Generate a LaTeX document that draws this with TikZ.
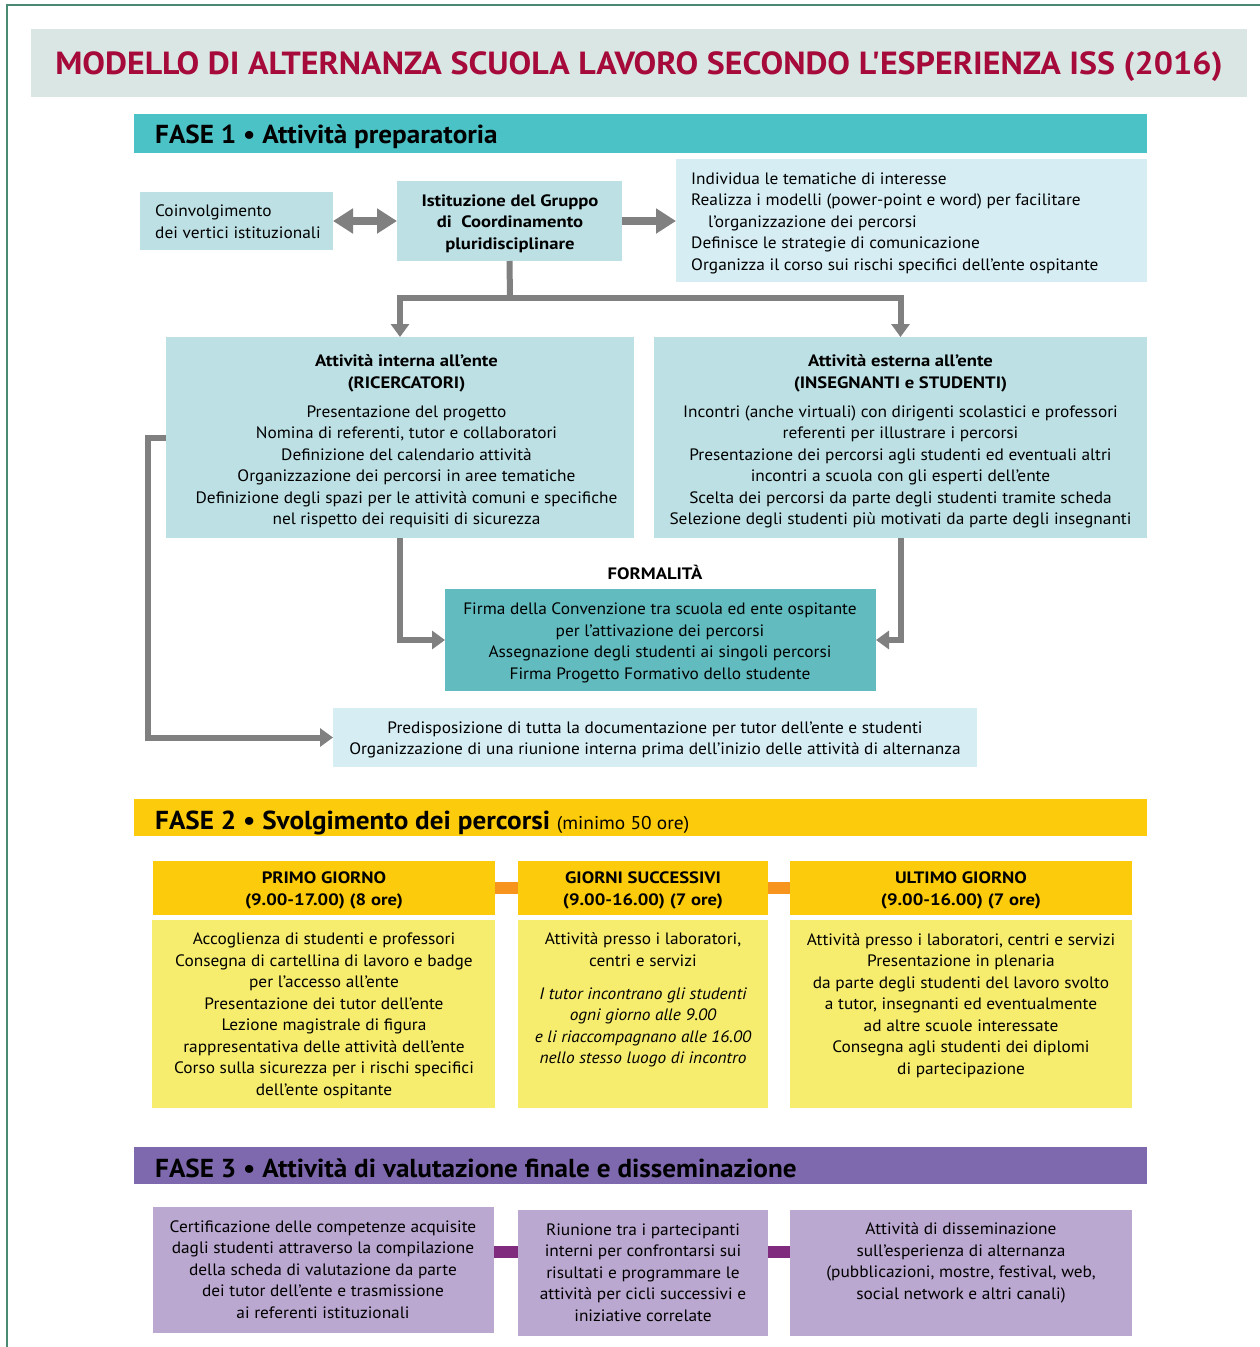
\documentclass[tikz,border=0pt]{standalone}
\usepackage{fontspec}
\setmainfont{PT Sans}[FakeStretch=1.05]
\newfontfamily\bfam{PT Sans}[FakeStretch=1.13]
\newfontfamily\tfam{PT Sans}[FakeStretch=1.06,Ligatures=TeXOff]
\newfontfamily\ffam{PT Sans}[FakeStretch=1.045]
\usetikzlibrary{arrows.meta,calc}
\definecolor{frameg}{HTML}{4A8A72}
\definecolor{titlebg}{HTML}{DAE6E3}
\definecolor{titlered}{HTML}{A50A3A}
\definecolor{barone}{HTML}{4AC2C6}
\definecolor{tealbox}{HTML}{BDE0E4}
\definecolor{lightbox}{HTML}{D5EDF3}
\definecolor{formbox}{HTML}{62BBBE}
\definecolor{arrgray}{HTML}{808080}
\definecolor{gold}{HTML}{FCCB0B}
\definecolor{lightyel}{HTML}{F6EC6E}
\definecolor{orangec}{HTML}{F7941E}
\definecolor{barthree}{HTML}{7E68AE}
\definecolor{purpbox}{HTML}{BBA8D0}
\definecolor{purpc}{HTML}{812B7E}
\newcommand\bodyf{\fontsize{16.5}{21.5}\selectfont}
\newcommand\bt[1]{{\bfam\bfseries #1}}
\begin{document}
\begin{tikzpicture}[x=1pt,y=-1pt,
  bx/.style={draw=none,inner sep=0pt,outer sep=0pt,anchor=north west},
  txt/.style={inner sep=0pt,align=center,font=\bodyf,yshift=-3.5pt,
     execute at begin node=\strut,execute at end node=\strut},
  txtl/.style={txt,align=left,anchor=west},
  bartxt/.style={inner sep=0pt,anchor=base west,font=\fontsize{26}{30}\selectfont\ffam\bfseries},
  ln/.style={draw=arrgray,line width=6pt},
  garr/.style={-{Triangle[length=13pt,width=18pt]}},
  orconn/.style={draw=orangec,line width=12pt},
  puconn/.style={draw=purpc,line width=12pt}]
\useasboundingbox (0,0) rectangle (1260,1347);
\fill[white] (0,0) rectangle (1260,1347);
% frame
\draw[frameg,line width=1.6pt] (7,1347) -- (7,5) -- (1260,5);
% title
\node[bx,fill=titlebg,minimum width=1216,minimum height=68] (title) at (31,29) {};
\node[inner sep=0pt,anchor=base,text=titlered,font=\fontsize{32}{36}\selectfont\tfam\bfseries] (titletxt) at (639,74) {MODELLO DI ALTERNANZA SCUOLA LAVORO SECONDO L'ESPERIENZA ISS (2016)};
% FASE 1
\node[bx,fill=barone,minimum width=1013,minimum height=39] (bar1) at (134,114) {};
\node[bartxt] (bar1txt) at (155,143) {FASE 1 • Attività preparatoria};
\node[bx,fill=tealbox,minimum width=193,minimum height=58] (coin) at (140,192) {};
\node[txtl] (cointxt) at (155,221.5) {Coinvolgimento\\dei vertici istituzionali};
\node[bx,fill=tealbox,minimum width=225,minimum height=80] (ist) at (397,181) {};
\node[txt,font=\bodyf\bfam\bfseries] (isttxt) at (510,221.5) {Istituzione del Gruppo\\di\ \ Coordinamento\\pluridisciplinare};
\node[bx,fill=lightbox,minimum width=471,minimum height=123] (list) at (676,159) {};
\node[txtl] (listtxt) at (691,221) {Individua le tematiche di interesse\\Realizza i modelli (power-point e word) per facilitare\\\hspace*{17pt}l’organizzazione dei percorsi\\Definisce le strategie di comunicazione\\Organizza il corso sui rischi specifici dell’ente ospitante};
\node[bx,fill=tealbox,minimum width=468,minimum height=201] (int) at (166,337) {};
\node[txt] (inttxt) at (406.5,439.5) {\bt{Attività interna all’ente}\\\bt{(RICERCATORI)}\\[7.5pt]Presentazione del progetto\\Nomina di referenti, tutor e collaboratori\\Definizione del calendario attività\\Organizzazione dei percorsi in aree tematiche\\Definizione degli spazi per le attività comuni e specifiche\\nel rispetto dei requisiti di sicurezza};
\node[bx,fill=tealbox,minimum width=493,minimum height=201] (est) at (654,337) {};
\node[txt] (esttxt) at (900.5,439.5) {\bt{Attività esterna all’ente}\\\bt{(INSEGNANTI e STUDENTI)}\\[7.5pt]Incontri (anche virtuali) con dirigenti scolastici e professori\\referenti per illustrare i percorsi\\Presentazione dei percorsi agli studenti ed eventuali altri\\incontri a scuola con gli esperti dell’ente\\Scelta dei percorsi da parte degli studenti tramite scheda\\Selezione degli studenti più motivati da parte degli insegnanti};
\node[inner sep=0pt,font=\bodyf\bfam\bfseries] (formlab) at (655,572) {FORMALITÀ};
\node[bx,fill=formbox,minimum width=431,minimum height=102] (form) at (445,589) {};
\node[txt] (formtxt) at (660,641) {Firma della Convenzione tra scuola ed ente ospitante\\per l’attivazione dei percorsi\\Assegnazione degli studenti ai singoli percorsi\\Firma Progetto Formativo dello studente};
\node[bx,fill=lightbox,minimum width=644,minimum height=59] (prep) at (333,708) {};
\node[txt] (preptxt) at (655,738) {Predisposizione di tutta la documentazione per tutor dell’ente e studenti\\Organizzazione di una riunione interna prima dell’inizio delle attività di alternanza};
% connectors fase 1
\draw[ln,line width=8pt,{Triangle[length=20pt,width=24pt]}-{Triangle[length=20pt,width=24pt]}] (coin.east) -- (ist.west);
\draw[ln,line width=8pt,-{Triangle[length=20pt,width=24pt]}] (ist.east) -- (ist.east -| list.west);
\coordinate (bj) at (510,298);
\draw[ln] (ist.south) -- (bj);
\draw[ln,garr] (bj) -| (int.north);
\draw[ln,garr] (bj) -| (est.north);
\draw[ln,garr] (int.south) |- (form.west);
\draw[ln,garr] (est.south) |- (form.east);
\draw[ln,garr] (int.west) -- ([xshift=-18pt]int.west) |- (prep.west);
% FASE 2
\node[bx,fill=gold,minimum width=1013,minimum height=37] (bar2) at (134,799) {};
\node[bartxt] (bar2txt) at (155,829.5) {FASE 2 • Svolgimento dei percorsi {\fontsize{18.5}{20}\selectfont\normalfont (minimo 50 ore)}};
\node[bx,fill=gold,minimum width=342,minimum height=54] (h1) at (153,861) {};
\node[bx,fill=gold,minimum width=250,minimum height=54] (h2) at (518,861) {};
\node[bx,fill=gold,minimum width=342,minimum height=54] (h3) at (790,861) {};
\draw[orconn] (h1.east) -- (h2.west);
\draw[orconn] (h2.east) -- (h3.west);
\node[txt,font=\bodyf\bfam\bfseries] (h1txt) at (324,888.5) {PRIMO GIORNO\\(9.00-17.00) (8 ore)};
\node[txt,font=\bodyf\bfam\bfseries] (h2txt) at (643,888.5) {GIORNI SUCCESSIVI\\(9.00-16.00) (7 ore)};
\node[txt,font=\bodyf\bfam\bfseries] (h3txt) at (961,888.5) {ULTIMO GIORNO\\(9.00-16.00) (7 ore)};
\node[bx,fill=lightyel,minimum width=343,minimum height=188] (d1) at (152,920) {};
\node[bx,fill=lightyel,minimum width=250,minimum height=188] (d2) at (518,920) {};
\node[bx,fill=lightyel,minimum width=342,minimum height=188] (d3) at (790,920) {};
\node[txt] (d1txt) at (324,1014) {Accoglienza di studenti e professori\\Consegna di cartellina di lavoro e badge\\per l’accesso all’ente\\Presentazione dei tutor dell’ente\\Lezione magistrale di figura\\rappresentativa delle attività dell’ente\\Corso sulla sicurezza per i rischi specifici\\dell’ente ospitante};
\node[txt] (d2txt) at (643,998) {Attività presso i laboratori,\\centri e servizi\\[11.5pt]\itshape I tutor incontrano gli studenti\\\itshape ogni giorno alle 9.00\\\itshape e li riaccompagnano alle 16.00\\\itshape nello stesso luogo di incontro};
\node[txt] (d3txt) at (961,1003.5) {Attività presso i laboratori, centri e servizi\\Presentazione in plenaria\\da parte degli studenti del lavoro svolto\\a tutor, insegnanti ed eventualmente\\ad altre scuole interessate\\Consegna agli studenti dei diplomi\\di partecipazione};
% FASE 3
\node[bx,fill=barthree,minimum width=1013,minimum height=37] (bar3) at (134,1147) {};
\node[bartxt] (bar3txt) at (155,1177) {FASE 3 • Attività di valutazione finale e disseminazione};
\node[bx,fill=purpbox,minimum width=341,minimum height=126] (f1) at (153,1207) {};
\node[bx,fill=purpbox,minimum width=250,minimum height=126] (f2) at (518,1210) {};
\node[bx,fill=purpbox,minimum width=342,minimum height=126] (f3) at (790,1210) {};
\draw[puconn] (f1.east |- 0,1252) -- (f2.west |- 0,1252);
\draw[puconn] (f2.east |- 0,1252) -- (f3.west |- 0,1252);
\node[txt] (f1txt) at (323,1269) {Certificazione delle competenze acquisite\\dagli studenti attraverso la compilazione\\della scheda di valutazione da parte\\dei tutor dell’ente e trasmissione\\ai referenti istituzionali};
\node[txt] (f2txt) at (643,1272) {Riunione tra i partecipanti\\interni per confrontarsi sui\\risultati e programmare le\\attività per cicli successivi e\\iniziative correlate};
\node[txt] (f3txt) at (961,1261) {Attività di disseminazione\\sull’esperienza di alternanza\\(pubblicazioni, mostre, festival, web,\\social network e altri canali)};
\end{tikzpicture}
\end{document}
